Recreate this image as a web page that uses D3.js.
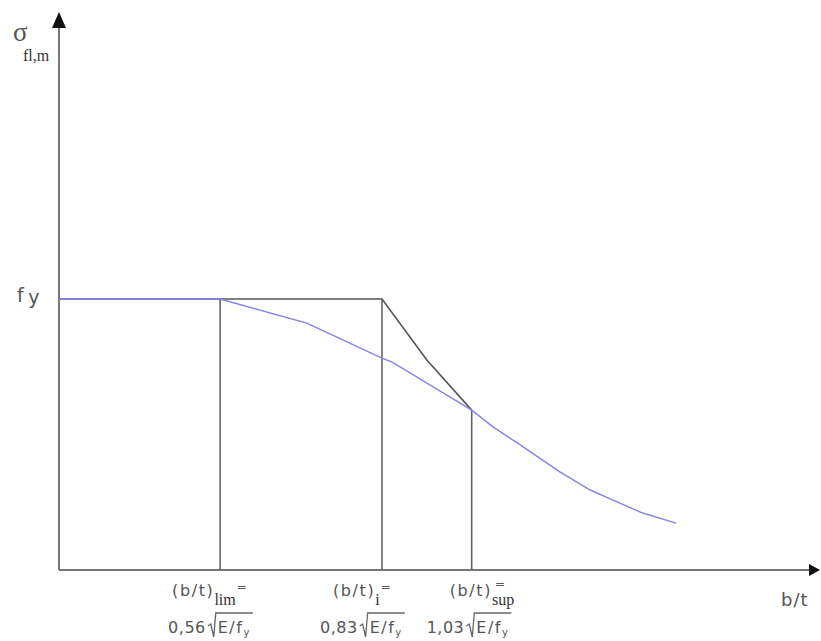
<!DOCTYPE html>
<html>
<head>
<meta charset="utf-8">
<script src="https://cdn.jsdelivr.net/npm/d3@7"></script>
<style>
  html, body { margin:0; padding:0; background:#fff; }
  svg { display:block; }
</style>
</head>
<body>
<svg id="chart" width="821" height="641"></svg>
<script>
// ==================== DATA ====================
// x in schematic b/t units, y relative to fy (fy = 1)
const blueX = [0, 2.12, 3.26, 4.25, 4.39, 5.43, 5.71, 6.03, 6.59, 6.99, 7.29, 7.68, 8.12];
const blueY = [1, 1, 0.911, 0.782, 0.766, 0.590, 0.528, 0.469, 0.362, 0.295, 0.258, 0.210, 0.173];

const designX = [0, 4.25, 4.84, 5.43];
const designY = [1, 1, 0.775, 0.590];

const breakX = [2.12, 4.25, 5.43];
const breakTop = [1, 1, 0.590];
const breakSub = ["lim", "i", "sup"];
const breakCoef = ["0,56", "0,83", "1,03"];

// ==================== LAYOUT ====================
const svg = d3.select("#chart");
const x = d3.scaleLinear().domain([0, 10]).range([59, 819]);
const y = d3.scaleLinear().domain([0, 1]).range([570, 299]);
const ink = "#555";
const sans = "'DejaVu Sans', sans-serif";
const serif = "'Liberation Serif', serif";

// axes
svg.append("line").attr("x1", x(0)).attr("y1", y(0)).attr("x2", 812).attr("y2", y(0))
  .attr("stroke", "#777").attr("stroke-width", 2);
svg.append("line").attr("x1", x(0)).attr("y1", y(0)).attr("x2", x(0)).attr("y2", 24)
  .attr("stroke", "#777").attr("stroke-width", 2);
svg.append("path").attr("d", `M820,${y(0)} L809,${y(0) - 6} L809,${y(0) + 6} Z`).attr("fill", "#111");
svg.append("path").attr("d", `M${x(0)},12 L${x(0) - 7},28 L${x(0) + 7},28 Z`).attr("fill", "#111");

// axis labels
svg.append("text").attr("x", 13).attr("y", 41).attr("fill", ink)
  .style("font-family", serif).style("font-size", "27px").text("σ");
svg.append("text").attr("x", 23).attr("y", 61).attr("fill", "#333")
  .style("font-family", serif).style("font-size", "16px").text("fl,m");

const fy = svg.append("text").attr("x", 17).attr("y", 302).attr("fill", ink)
  .style("font-family", sans).style("font-size", "19px");
fy.append("tspan").text("f");
fy.append("tspan").attr("dx", 5).attr("dy", 2).text("y");

svg.append("text").attr("x", 781).attr("y", 606).attr("fill", ink)
  .style("font-family", sans).style("font-size", "18px").style("letter-spacing", "1px").text("b/t");

// vertical breakpoint lines
svg.append("g").selectAll("line").data(breakX).join("line")
  .attr("x1", d => x(d)).attr("x2", d => x(d))
  .attr("y1", y(0)).attr("y2", (d, i) => y(breakTop[i]))
  .attr("stroke", "#666").attr("stroke-width", 1.6);

// design (black) line
const line = d3.line().x(d => x(d[0])).y(d => y(d[1]));
svg.append("path").datum(d3.zip(designX, designY))
  .attr("d", line).attr("fill", "none").attr("stroke", "#555").attr("stroke-width", 1.6);

// blue curve
svg.append("path").datum(d3.zip(blueX, blueY))
  .attr("d", line).attr("fill", "none")
  .attr("stroke", "#8585e6").attr("stroke-width", 1.5);

// breakpoint labels
const lab1dx = [-48, -49, -22];   // "(b/t)" start offset from the line
const lab2dx = [-52, -62, -45];   // coefficient start offset
breakX.forEach((b, i) => {
  const bx = x(b);
  const t = svg.append("text").attr("x", bx + lab1dx[i]).attr("y", 596).attr("fill", ink)
    .style("font-family", sans).style("font-size", "16px").style("letter-spacing", "1.6px")
    .text("(b/t)");
  const tw = t.node().getComputedTextLength();
  const subX = bx + lab1dx[i] + tw;
  const sub = svg.append("text").attr("fill", "#333")
    .style("font-family", serif).style("font-size", "16px")
    .attr("x", subX).attr("y", 605).text(breakSub[i]);
  const subW = sub.node().getComputedTextLength();
  svg.append("text").attr("fill", ink).style("font-family", sans).style("font-size", "12px")
    .attr("x", i === 2 ? subX + 3 : subX + subW + 1).attr("y", i === 2 ? 588 : 591).text("=");

  const c = svg.append("text").attr("x", bx + lab2dx[i]).attr("y", 633).attr("fill", ink)
    .style("font-family", sans).style("font-size", "16px").style("letter-spacing", "0.5px")
    .text(breakCoef[i]);
  const cw = c.node().getComputedTextLength();
  const sx = bx + lab2dx[i] + cw + 2;
  const e = svg.append("text").attr("x", sx + 10).attr("y", 633).attr("fill", ink)
    .style("font-family", sans).style("font-size", "16px").style("letter-spacing", "1.5px");
  e.append("tspan").text("E/f");
  e.append("tspan").attr("dy", 3).style("font-size", "10px").text("y");
  const ew = e.node().getComputedTextLength();
  svg.append("path")
    .attr("d", `M${sx},626 L${sx + 3},624 L${sx + 6},637 L${sx + 8},613 L${sx + 10 + ew + 2},613`)
    .attr("fill", "none").attr("stroke", "#666").attr("stroke-width", 1.3);
});
</script>
</body>
</html>
